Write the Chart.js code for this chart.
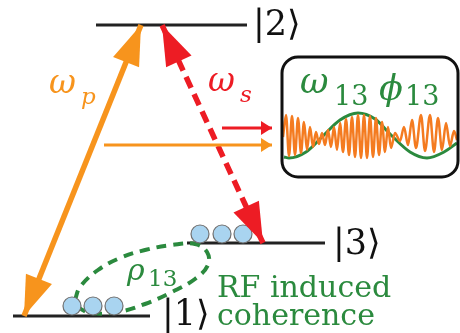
<!DOCTYPE html>
<html>
<head>
<meta charset="utf-8">
<script src="https://cdn.jsdelivr.net/npm/chart.js@4.4.0/dist/chart.umd.min.js"></script>
<style>
  html, body { margin: 0; padding: 0; background: #fff; }
  #wrap { width: 460px; height: 333px; }
</style>
</head>
<body>
<div id="wrap"><canvas id="diagram" width="460" height="333"></canvas></div>
<script>
// energy levels (diagram units = picture pixels)
const LEVEL_NAMES = ['|1⟩', '|2⟩', '|3⟩'];
const LEVEL_Y = [316, 25, 243];
const LEVEL_X0 = [13, 96, 187];
const LEVEL_X1 = [150, 247, 325];

// populated atoms
const ATOMS1_X = [72, 93, 114];
const ATOMS3_X = [200, 222, 243];
const ATOMS1_Y = 306;
const ATOMS3_Y = 234;

// transitions: [start, end] tips
const PUMP_X = [24, 141];
const PUMP_Y = [316, 25];
const STOKES_X = [263, 162];
const STOKES_Y = [243, 25];
const PROBE_X = [104, 272];
const PROBE_Y = [145, 145];
const SIGNAL_X = [222, 272];
const SIGNAL_Y = [128, 128];

// rho13 coherence loop
const LOOP_X = [75, 80, 98, 120, 145, 172, 195, 207, 208, 195, 172, 145, 118, 92, 78, 75];
const LOOP_Y = [300, 287, 270, 258, 250, 245, 244, 252, 265, 279, 292, 304, 312, 313, 307, 300];

// RF envelope (green) and optical beat (orange) inside the box
const RF_X = [284, 289, 306, 323, 340, 358, 375, 392, 410, 427, 444, 457];
const RF_Y = [157, 158, 152, 136, 120, 113, 119, 136, 152, 158, 152, 143];
const BEAT_X = [283, 286, 289, 292, 295, 298, 301, 304, 307, 310, 313, 316, 319, 322, 325, 328, 331, 334,
                337, 340, 343, 346, 349, 352, 355, 358, 361, 364, 367, 370, 373, 376, 379, 382, 385, 388,
                391, 395, 400, 404, 408, 412, 416, 421, 425, 430, 434, 438, 442, 446, 450, 454, 457];
const BEAT_Y = [137, 115, 156, 116, 155, 118, 153, 122, 150, 127, 147, 132, 144, 133, 145, 130, 147, 127,
                150, 123, 152, 119, 155, 117, 157, 115, 158, 115, 158, 116, 157, 118, 155, 122, 152, 127,
                148, 133, 141, 127, 145, 120, 148, 115, 151, 115, 152, 118, 150, 123, 146, 131, 140];

const BOX = [282, 57, 458, 177];

const ORANGE = '#f7941d';
const RED = '#ed1c24';
const GREEN = '#2b8a3e';
const SERIF = '"DejaVu Serif", serif';

const pts = (xs, ys) => xs.map((x, i) => ({ x, y: Array.isArray(ys) ? ys[i] : ys }));

const datasets = [];
LEVEL_Y.forEach((y, i) => {
    datasets.push({ data: pts([LEVEL_X0[i], LEVEL_X1[i]], y), borderColor: '#222', borderWidth: 3, order: 10 });
});
datasets.push({ data: pts(LOOP_X, LOOP_Y), borderColor: GREEN, borderWidth: 4, borderDash: [10, 7], tension: 0.4, order: 9 });
datasets.push({ data: pts(BEAT_X, BEAT_Y), borderColor: '#f47b20', borderWidth: 2.5, cubicInterpolationMode: 'monotone', order: 8 });
datasets.push({ data: pts(RF_X, RF_Y), borderColor: GREEN, borderWidth: 3, cubicInterpolationMode: 'monotone', order: 8 });
datasets.push({ data: pts(ATOMS1_X, ATOMS1_Y).concat(pts(ATOMS3_X, ATOMS3_Y)), showLine: false, pointRadius: 9,
    backgroundColor: '#a9d4f0', borderColor: '#707070', pointBorderWidth: 1.2, order: 7 });
datasets.push({ data: pts(STOKES_X, STOKES_Y), borderColor: RED, borderWidth: 5.5, borderDash: [12, 7], order: 6,
    heads: { len: 40, half: 14, both: true } });
datasets.push({ data: pts(PUMP_X, PUMP_Y), borderColor: ORANGE, borderWidth: 5.5, order: 5,
    heads: { len: 40, half: 14, both: true } });
datasets.push({ data: pts(PROBE_X, PROBE_Y), borderColor: ORANGE, borderWidth: 3, order: 4,
    heads: { len: 11, half: 7, both: false } });
datasets.push({ data: pts(SIGNAL_X, SIGNAL_Y), borderColor: RED, borderWidth: 3, order: 4,
    heads: { len: 11, half: 7, both: false } });

function head(ctx, tip, from, h, color) {
    const dx = tip.x - from.x, dy = tip.y - from.y;
    const d = Math.hypot(dx, dy);
    const ux = dx / d, uy = dy / d;
    const bx = tip.x - ux * h.len, by = tip.y - uy * h.len;
    ctx.beginPath();
    ctx.moveTo(tip.x, tip.y);
    ctx.lineTo(bx - uy * h.half, by + ux * h.half);
    ctx.lineTo(bx + uy * h.half, by - ux * h.half);
    ctx.closePath();
    ctx.fillStyle = color;
    ctx.fill();
}

function txt(ctx, s, x, y, font, color) {
    ctx.font = font;
    ctx.fillStyle = color;
    ctx.textAlign = 'left';
    ctx.textBaseline = 'alphabetic';
    ctx.fillText(s, x, y);
}

const decor = {
    id: 'decor',
    afterDatasetsDraw(chart) {
        const { ctx, scales: { x, y } } = chart;
        ctx.save();
        // arrow heads
        chart.data.datasets.forEach((ds, i) => {
            if (!ds.heads) return;
            const el = chart.getDatasetMeta(i).data;
            const a = el[0], b = el[el.length - 1];
            head(ctx, b, a, ds.heads, ds.borderColor);
            if (ds.heads.both) head(ctx, a, b, ds.heads, ds.borderColor);
        });
        // rounded box
        const x0 = x.getPixelForValue(BOX[0]), y0 = y.getPixelForValue(BOX[1]);
        const x1 = x.getPixelForValue(BOX[2]), y1 = y.getPixelForValue(BOX[3]);
        ctx.beginPath();
        ctx.roundRect(x0, y0, x1 - x0, y1 - y0, 16);
        ctx.lineWidth = 3;
        ctx.strokeStyle = '#111';
        ctx.stroke();

        const px = v => x.getPixelForValue(v), py = v => y.getPixelForValue(v);
        // kets
        txt(ctx, LEVEL_NAMES[1], px(253), py(35), '35px ' + SERIF, '#111');
        txt(ctx, LEVEL_NAMES[2], px(333), py(254), '35px ' + SERIF, '#111');
        txt(ctx, LEVEL_NAMES[0], px(162), py(325), '35px ' + SERIF, '#111');
        // field labels
        txt(ctx, 'ω', px(49), py(93), 'italic 33px ' + SERIF, ORANGE);
        txt(ctx, 'p', px(81), py(104), 'italic 23px ' + SERIF, ORANGE);
        txt(ctx, 'ω', px(208), py(91), 'italic 33px ' + SERIF, RED);
        txt(ctx, 's', px(240), py(102), 'italic 23px ' + SERIF, RED);
        txt(ctx, 'ω', px(300), py(93), 'italic 35px ' + SERIF, GREEN);
        txt(ctx, '13', px(334), py(105), '27px ' + SERIF, GREEN);
        txt(ctx, 'ϕ', px(379), py(100), 'italic 35px ' + SERIF, GREEN);
        txt(ctx, '13', px(405), py(105), '27px ' + SERIF, GREEN);
        txt(ctx, 'ρ', px(127), py(280), 'italic 30px ' + SERIF, GREEN);
        txt(ctx, '13', px(148), py(286), '23px ' + SERIF, GREEN);
        txt(ctx, 'RF induced', px(217), py(297), '30px ' + SERIF, GREEN);
        txt(ctx, 'coherence', px(217), py(325), '30px ' + SERIF, GREEN);
        ctx.restore();
    }
};

new Chart(document.getElementById('diagram'), {
    type: 'scatter',
    data: { datasets: datasets.map(d => Object.assign({ showLine: true, pointRadius: 0, fill: false, borderCapStyle: 'butt' }, d)) },
    options: {
        responsive: false,
        animation: false,
        layout: { padding: 0, autoPadding: false },
        plugins: { legend: { display: false }, tooltip: { enabled: false } },
        scales: {
            x: { type: 'linear', min: 0, max: 460, display: false },
            y: { type: 'linear', min: 0, max: 333, reverse: true, display: false }
        }
    },
    plugins: [decor]
});
</script>
</body>
</html>
